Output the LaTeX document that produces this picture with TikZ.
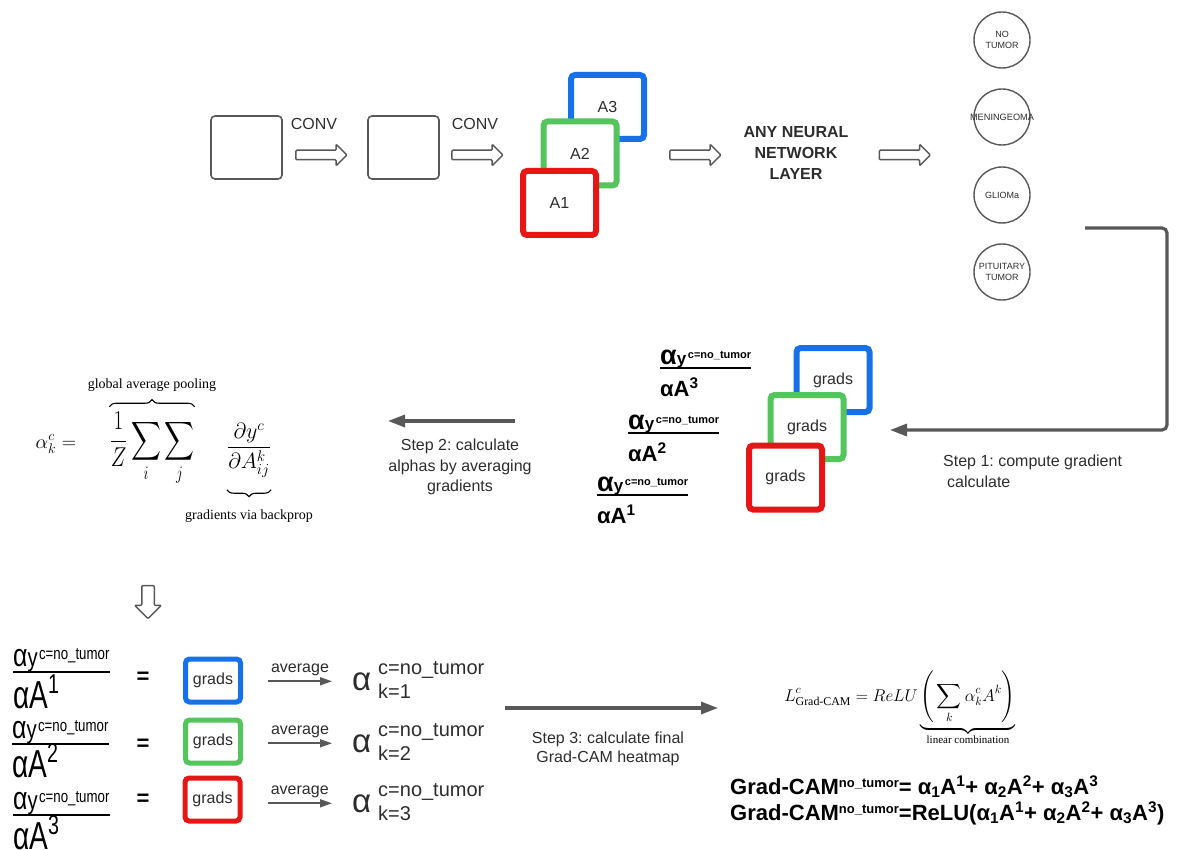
\RequirePackage{fix-cm}
\documentclass[tikz,border=0pt]{standalone}
\usepackage{fontspec}
\usepackage{amsmath}
\usepackage{graphicx}
\setmainfont{Liberation Sans}
\newfontfamily\paperfont{Liberation Serif}
\usetikzlibrary{arrows.meta,shapes.arrows,positioning,decorations.pathreplacing}
\frenchspacing

\definecolor{mapblue}{RGB}{22,112,232}
\definecolor{mapgreen}{RGB}{84,196,92}
\definecolor{mapred}{RGB}{230,22,22}
\definecolor{flowgray}{RGB}{88,88,88}
\definecolor{inkgray}{RGB}{45,45,45}

\newcommand{\fsz}[2]{\fontsize{#1}{#2}\selectfont}
% gradient fractions: numerator and denominator
\newcommand{\gradnum}{\bfseries{\fsz{27}{27}α}{\fsz{17}{17}y}\,\raisebox{6pt}{\fsz{11}{11}c=no\_tumor}}
\newcommand{\gradden}[1]{\fsz{22}{22}\bfseries αA\textsuperscript{#1}}
\newcommand{\narrownum}{\scalebox{0.78}[1]{{\fsz{32}{32}α}{\fsz{26}{26}y}\,\raisebox{7pt}{\fsz{17}{17}c=no\_tumor}}}
\newcommand{\narrowden}[1]{\scalebox{0.72}[1]{\fsz{39}{39}αA\textsuperscript{#1}}}
% class tag on grad-cam
\newcommand{\camtag}{\raisebox{7pt}{\fsz{13}{13}no\_tumor}}

\begin{document}
\begin{tikzpicture}[x=1pt,y=-1pt]

    \useasboundingbox (0,0) rectangle (1193,850);

    % Styles
    \tikzstyle{plain}=[inner sep=0pt,text=inkgray]
    \tikzstyle{layer}=[draw=flowgray,line width=1.6pt,rounded corners=4pt,minimum width=71pt,minimum height=63pt]
    \tikzstyle{fmap}=[draw,line width=6pt,rounded corners=4pt,fill=white,text=inkgray,minimum width=73pt,minimum height=64pt,font=\fsz{16}{18}]
    \tikzstyle{smallmap}=[draw,line width=5pt,rounded corners=4pt,fill=white,text=inkgray,minimum width=55pt,minimum height=43pt,font=\fsz{16}{18}]
    \tikzstyle{hollow}=[single arrow,draw=flowgray,line width=1.5pt,rounded corners=1pt,inner sep=4pt,minimum height=51pt,single arrow head extend=6pt]
    \tikzstyle{classnode}=[circle,draw=flowgray,line width=1.4pt,minimum size=56pt,inner sep=0pt,align=center,text=inkgray,font=\fsz{9}{11}]
    \tikzstyle{steparrow}=[draw=flowgray,line width=3.2pt,-{Triangle[length=17pt,width=12pt]}]
    \tikzstyle{avgarrow}=[draw=flowgray,line width=1.6pt,-{Triangle[length=12pt,width=8pt]}]
    \tikzstyle{steptext}=[plain,align=center,font=\fsz{16}{20.5}]
    \tikzstyle{fracbar}=[line width=1.8pt]
    \tikzstyle{curly}=[line width=1.1pt,decorate,decoration={brace,amplitude=7pt}]
    \tikzstyle{papertext}=[plain,text=black,font=\paperfont\fsz{14}{14}]

    % input and conv layers
    \node[layer] (input) at (246.5,147.5) {};
    \node[hollow] (conva) at (319,155) {};
    \node[plain,font=\fsz{16}{18}] (convalabel) at (314,124) {CONV};
    \node[layer] (hidden) at (403.5,147.5) {};
    \node[hollow] (convb) at (475,155) {};
    \node[plain,font=\fsz{16}{18}] (convblabel) at (475,124) {CONV};

    % activation maps
    \node[fmap,draw=mapblue] (a3) at (607.5,107) {A3};
    \node[fmap,draw=mapgreen] (a2) at (580,153.5) {A2};
    \node[fmap,draw=mapred] (a1) at (559.5,203) {A1};
    \node[hollow] (tolayer) at (693,155) {};
    \node[plain,anchor=north,align=center,font=\fsz{16}{21}\bfseries] (anylayer) at (796,126) {ANY NEURAL\\NETWORK\\LAYER};
    \node[hollow] (toclass) at (902.5,155) {};

    % output classes
    \node[classnode] (notumor) at (1002,40) {NO\\TUMOR};
    \node[classnode] (mening) at (1002,117) {\fsz{9.2}{10}\makebox[0pt]{MENINGEOMA}};
    \node[classnode] (glioma) at (1002,195) {GLIOMa};
    \node[classnode] (pituitary) at (1002,272) {PITUITARY\\TUMOR};

    % step 1
    \coordinate (outtap) at (1085,228);
    \coordinate (bend) at (1167,430);
    \coordinate (gradin) at (890,430);
    \draw[steparrow,rounded corners=5pt] (outtap) -| (bend) -- (gradin);
    \node[plain,anchor=north west,align=left,font=\fsz{16}{21}] (step1) at (943,455) {Step 1: compute gradient\\\hspace*{4pt}calculate};

    % gradient maps
    \node[fmap,draw=mapblue] (g3) at (833,380) {grads};
    \node[fmap,draw=mapgreen] (g2) at (807,427) {grads};
    \node[fmap,draw=mapred] (g1) at (785.5,477.5) {grads};

    % gradient fractions
    \node[plain,text=black,anchor=south west] (dy3) at (660,368) {\gradnum};
    \draw[fracbar] (dy3.south west) -- (dy3.south east);
    \node[plain,text=black,anchor=base west] (da3) at (660,396) {\gradden{3}};
    \node[plain,text=black,anchor=south west] (dy2) at (628,433) {\gradnum};
    \draw[fracbar] (dy2.south west) -- (dy2.south east);
    \node[plain,text=black,anchor=base west] (da2) at (628,461) {\gradden{2}};
    \node[plain,text=black,anchor=south west] (dy1) at (597,495) {\gradnum};
    \draw[fracbar] (dy1.south west) -- (dy1.south east);
    \node[plain,text=black,anchor=base west] (da1) at (597,523) {\gradden{1}};

    % step 2
    \coordinate (s2from) at (515,421);
    \coordinate (s2to) at (388,421);
    \draw[steparrow] (s2from) -- (s2to);
    \node[steptext,anchor=north] (step2) at (460,439) {Step 2: calculate\\alphas by averaging\\gradients};

    % alpha formula
    \node[plain,text=black,anchor=base,font=\fsz{20}{24}] (alphak) at (56,448) {$\alpha^c_k =$};
    \node[plain,text=black,anchor=base,font=\fsz{21}{24}] (pool) at (152,448) {\scalebox{1}[1.3]{$\displaystyle\frac{1}{Z}\sum_i\sum_j$}};
    \node[plain,text=black,anchor=base,font=\fsz{22}{26}] (backgrad) at (249,453) {$\displaystyle\frac{\partial y^c}{\partial A^k_{ij}}$};
    \draw[curly] ([yshift=5pt]pool.north west) -- ([yshift=5pt]pool.north east);
    \node[papertext,above=20pt of pool.north] (poollabel) {global average pooling};
    \draw[curly] ([yshift=-12pt]backgrad.south east) -- ([yshift=-12pt]backgrad.south west);
    \node[papertext,below=32pt of backgrad.south] (gradlabel) {gradients via backprop};
    \node[hollow,rotate=-90,minimum height=33pt,inner sep=5.5pt,single arrow head extend=7pt] (down) at (148,599) {};

    % per map fractions
    \node[plain,text=black,anchor=south west] (by1) at (13,672) {\narrownum};
    \draw[fracbar,line width=2.6pt] (by1.south west) -- (by1.south east);
    \node[plain,text=black,anchor=base west] (ba1) at (13,708) {\narrowden{1}};
    \node[plain,text=black,anchor=south west] (by2) at (12,744) {\narrownum};
    \draw[fracbar,line width=2.6pt] (by2.south west) -- (by2.south east);
    \node[plain,text=black,anchor=base west] (ba2) at (12,777) {\narrowden{2}};
    \node[plain,text=black,anchor=south west] (by3) at (13,815) {\narrownum};
    \draw[fracbar,line width=2.6pt] (by3.south west) -- (by3.south east);
    \node[plain,text=black,anchor=base west] (ba3) at (13,849) {\narrowden{3}};

    \node[plain,text=black,font=\fsz{22}{22}\bfseries] (eq1) at (143,678) {=};
    \node[plain,text=black,font=\fsz{22}{22}\bfseries] (eq2) at (143,745) {=};
    \node[plain,text=black,font=\fsz{22}{22}\bfseries] (eq3) at (143,800) {=};

    \node[smallmap,draw=mapblue] (gb1) at (213,680.5) {grads};
    \node[smallmap,draw=mapgreen] (gb2) at (213,741.5) {grads};
    \node[smallmap,draw=mapred] (gb3) at (212.5,799.5) {grads};

    % averaged alphas
    \node[plain,anchor=base west,font=\fsz{33}{33}] (alpha1) at (352,690) {α};
    \node[plain,anchor=north west,align=left,font=\fsz{20}{24}] (alphaidx1) at (378,661) {c=no\_tumor\\k=1};
    \node[plain,anchor=base west,font=\fsz{33}{33}] (alpha2) at (352,752) {α};
    \node[plain,anchor=north west,align=left,font=\fsz{20}{24}] (alphaidx2) at (378,723) {c=no\_tumor\\k=2};
    \node[plain,anchor=base west,font=\fsz{33}{33}] (alpha3) at (352,812) {α};
    \node[plain,anchor=north west,align=left,font=\fsz{20}{24}] (alphaidx3) at (378,783) {c=no\_tumor\\k=3};

    \path (gb1.east |- alpha1.west) ++(25,0) coordinate (avg1);
    \draw[avgarrow] (avg1) -- node[plain,above=5pt,font=\fsz{16}{18}] (avglabel1) {average} ([xshift=-20pt]alpha1.west);
    \path (gb2.east |- alpha2.west) ++(25,0) coordinate (avg2);
    \draw[avgarrow] (avg2) -- node[plain,above=5pt,font=\fsz{16}{18}] (avglabel2) {average} ([xshift=-20pt]alpha2.west);
    \path (gb3.east |- alpha3.west) ++(25,0) coordinate (avg3);
    \draw[avgarrow] (avg3) -- node[plain,above=5pt,font=\fsz{16}{18}] (avglabel3) {average} ([xshift=-20pt]alpha3.west);

    % step 3
    \coordinate (s3from) at (505,708);
    \coordinate (s3to) at (718,708);
    \draw[steparrow] (s3from) -- (s3to);
    \node[steptext,anchor=north,font=\fsz{16}{19}] (step3) at (608,732) {Step 3: calculate final\\Grad-CAM heatmap};

    % grad-cam map
    \node[plain,text=black,anchor=base,font=\fsz{17}{20}] (lgradcam) at (900,701) {$\displaystyle L^c_{\text{\paperfont Grad-CAM}} = ReLU\underbrace{\left(\rule[-24pt]{0pt}{50pt}\sum_k \alpha^c_k A^k\right)}_{\text{\paperfont\fsz{11}{11}linear combination}}$};
    \node[plain,text=black,anchor=base west,font=\fsz{22}{24}\bfseries] (camsum) at (730,794) {Grad-CAM\camtag= α\textsubscript{1}A\textsuperscript{1}+ α\textsubscript{2}A\textsuperscript{2}+ α\textsubscript{3}A\textsuperscript{3}};
    \node[plain,text=black,anchor=base west,font=\fsz{22}{24}\bfseries] (camrelu) at (730,820) {Grad-CAM\camtag=ReLU(α\textsubscript{1}A\textsuperscript{1}+ α\textsubscript{2}A\textsuperscript{2}+ α\textsubscript{3}A\textsuperscript{3})};

\end{tikzpicture}
\end{document}
